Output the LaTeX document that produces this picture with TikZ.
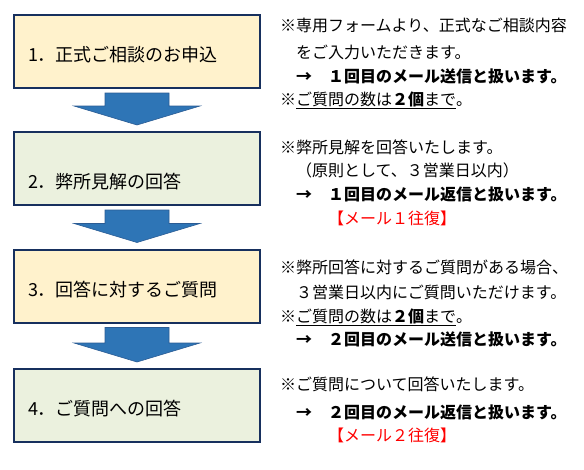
\documentclass[tikz,border=0pt]{standalone}
\usepackage{fontspec}
\setmainfont{Noto Sans CJK JP}
\usetikzlibrary{calc}
\definecolor{boxline}{HTML}{17305E}
\definecolor{boxyellow}{HTML}{FFF2CC}
\definecolor{boxgreen}{HTML}{EBF1DE}
\definecolor{arrowblue}{HTML}{2E75B6}
\definecolor{arrowedge}{HTML}{2B5C94}
\tikzset{
  stepbox/.style={draw=boxline, line width=2pt, minimum height=73pt, text width=218pt,
    inner xsep=14pt, align=left, font=\fontsize{18}{20}\selectfont,
    text height=22.6pt, text depth=2pt},
  notetext/.style={anchor=west, inner sep=0pt, font=\fontsize{16}{18}\selectfont,
    text height=14pt, text depth=2pt},
  flowarrow/.style={fill=arrowblue, draw=arrowedge, line width=0.6pt},
}
\begin{document}
\begin{tikzpicture}[x=1pt,y=-1pt]
\useasboundingbox (0,0) rectangle (584,469);
\node[stepbox, fill=boxyellow] (step1) at (137,51.5){1．正式ご相談のお申込};
\node[stepbox, fill=boxgreen, text height=41.6pt] (step2) at (137,168.5){2．弊所見解の回答};
\node[stepbox, fill=boxyellow] (step3) at (137,286){3．回答に対するご質問};
\node[stepbox, fill=boxgreen] (step4) at (137,405.5){4．ご質問への回答};
\draw[flowarrow] let \p1=(step1.south), \p2=(step2.north) in
  (\x1-32pt,\y1-4pt) -- (\x1+32pt,\y1-4pt) -- (\x1+32pt,\y2+25pt) -- (\x1+63pt,\y2+25pt)
  -- (\x1,\y2+6pt) -- (\x1-63pt,\y2+25pt) -- (\x1-32pt,\y2+25pt) -- cycle;
\draw[flowarrow] let \p1=(step2.south), \p2=(step3.north) in
  (\x1-32pt,\y1-4pt) -- (\x1+32pt,\y1-4pt) -- (\x1+32pt,\y2+25pt) -- (\x1+63pt,\y2+25pt)
  -- (\x1,\y2+6pt) -- (\x1-63pt,\y2+25pt) -- (\x1-32pt,\y2+25pt) -- cycle;
\draw[flowarrow] let \p1=(step3.south), \p2=(step4.north) in
  (\x1-32pt,\y1-4pt) -- (\x1+32pt,\y1-4pt) -- (\x1+32pt,\y2+25pt) -- (\x1+63pt,\y2+25pt)
  -- (\x1,\y2+6pt) -- (\x1-63pt,\y2+25pt) -- (\x1-32pt,\y2+25pt) -- cycle;
% notes for step 1
\node[notetext] (note1a) at (280,25){※専用フォームより、正式なご相談内容};
\node[notetext] (note1b) at (280,52){　をご入力いただきます。};
\node[notetext, font=\fontsize{16}{18}\selectfont\bfseries] (note1c) at (280,76){　→　１回目のメール送信と扱います。};
\node[notetext] (note1d) at (280,99){※\underline{ご質問の数は\textbf{２個}まで}。};
% notes for step 2
\node[notetext] (note2a) at (280,147){※弊所見解を回答いたします。};
\node[notetext] (note2b) at (280,170){　（原則として、３営業日以内）};
\node[notetext, font=\fontsize{16}{18}\selectfont\bfseries] (note2c) at (280,194){　→　１回目のメール返信と扱います。};
\node[notetext, red] (note2d) at (280,218){　　　【メール１往復】};
% notes for step 3
\node[notetext] (note3a) at (280,267){※弊所回答に対するご質問がある場合、};
\node[notetext] (note3b) at (280,292){　３営業日以内にご質問いただけます。};
\node[notetext] (note3c) at (280,316){※\underline{ご質問の数は\textbf{２個}まで}。};
\node[notetext, font=\fontsize{16}{18}\selectfont\bfseries] (note3d) at (280,339){　→　２回目のメール送信と扱います。};
% notes for step 4
\node[notetext] (note4a) at (280,384){※ご質問について回答いたします。};
\node[notetext, font=\fontsize{16}{18}\selectfont\bfseries] (note4b) at (280,412){　→　２回目のメール返信と扱います。};
\node[notetext, red] (note4c) at (280,435){　　　【メール２往復】};
\end{tikzpicture}
\end{document}
